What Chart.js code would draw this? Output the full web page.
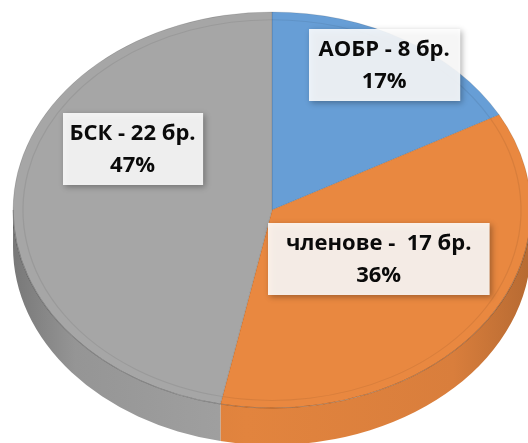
<!DOCTYPE html>
<html><head><meta charset="utf-8">
<script src="https://cdn.jsdelivr.net/npm/chart.js@4/dist/chart.umd.min.js"></script>
<style>html,body{margin:0;padding:0;background:#fff;overflow:hidden}#wrap{width:528px;height:443px;position:relative}</style>
</head><body><div id="wrap"><canvas id="c" width="528" height="443"></canvas></div>
<script>
// ---- data ----
const categories = ['АОБР', 'членове', 'БСК'];
const counts = [8, 17, 22];
const countLabels = ['АОБР - 8 бр.', 'членове -  17 бр.', 'БСК - 22 бр.'];
const percentLabels = ['17%', '36%', '47%'];
const sliceColors = ['#679ed6', '#e98840', '#a6a6a6'];

// ---- look ----
const TILT = 198 / 259;
const DEPTH = 37;
const LABEL_RADIUS = [0.85, 0.48, 0.62];
const LABEL_SHIFT_DEG = [0, -5.5, 24];
const BOX_PAD = [10, 18, 7];
const FONT = 'bold 22px "Open Sans"';

function shade(hex, f) {
  const n = parseInt(hex.slice(1), 16);
  const r = Math.round(((n >> 16) & 255) * f), g = Math.round(((n >> 8) & 255) * f), b = Math.round((n & 255) * f);
  return `rgb(${Math.min(r,255)},${Math.min(g,255)},${Math.min(b,255)})`;
}

let saved = false;
const pie3d = {
  id: 'pie3d',
  beforeDatasetsDraw(chart) {
    const ctx = chart.ctx;
    const arcs = chart.getDatasetMeta(0).data;
    if (!arcs.length) return;
    const { x: cx, y: cy, outerRadius: r } = arcs[0];
    ctx.save(); saved = true;
    ctx.translate(cx, cy); ctx.scale(1, TILT); ctx.translate(-cx, -cy);
    const dz = DEPTH / TILT;
    arcs.forEach((arc, i) => {
      const a1 = Math.max(arc.startAngle, 0), a2 = Math.min(arc.endAngle, Math.PI);
      if (a2 <= a1) return;
      const col = sliceColors[i];
      const g = ctx.createLinearGradient(cx - r, 0, cx + r, 0);
      g.addColorStop(0, shade(col, 0.72));
      g.addColorStop(0.12, shade(col, 0.9));
      g.addColorStop(0.45, shade(col, 0.97));
      g.addColorStop(0.85, shade(col, 0.93));
      g.addColorStop(1, shade(col, 0.78));
      ctx.beginPath();
      ctx.arc(cx, cy, r, a1, a2);
      ctx.arc(cx, cy + dz, r, a2, a1, true);
      ctx.closePath();
      ctx.fillStyle = g;
      ctx.fill();
    });
  },
  afterDatasetsDraw(chart) {
    const ctx = chart.ctx;
    const arcs = chart.getDatasetMeta(0).data;
    if (!saved) return;
    const { x: cx, y: cy, outerRadius: r } = arcs[0];
    ctx.lineWidth = 1 / TILT;
    arcs.forEach((arc) => {
      ctx.beginPath();
      ctx.arc(cx, cy, r - 10, arc.startAngle, arc.endAngle);
      ctx.strokeStyle = 'rgba(0,0,0,0.07)';
      ctx.stroke();
      const a1 = Math.max(arc.startAngle, 0), a2 = Math.min(arc.endAngle, Math.PI);
      if (a2 > a1) {
        ctx.beginPath();
        ctx.arc(cx, cy, r, a1, a2);
        ctx.strokeStyle = 'rgba(0,0,0,0.18)';
        ctx.stroke();
      }
    });
    ctx.restore(); saved = false;
  },
  afterDraw(chart) {
    const ctx = chart.ctx;
    const arcs = chart.getDatasetMeta(0).data;
    if (!arcs.length) return;
    const { x: cx, y: cy, outerRadius: r } = arcs[0];
    ctx.save();
    ctx.font = FONT;
    ctx.textAlign = 'center';
    ctx.textBaseline = 'middle';
    arcs.forEach((arc, i) => {
      const mid = (arc.startAngle + arc.endAngle) / 2 + LABEL_SHIFT_DEG[i] * Math.PI / 180;
      const px = cx + Math.cos(mid) * r * LABEL_RADIUS[i];
      const py = cy + Math.sin(mid) * r * LABEL_RADIUS[i] * TILT;
      const lines = [countLabels[i], percentLabels[i]];
      const tw = Math.max(...lines.map(l => ctx.measureText(l).width));
      const w = tw + 2 * BOX_PAD[i], h = 72;
      const bx = Math.round(px - w / 2), by = Math.round(py - h / 2);
      ctx.save();
      ctx.shadowColor = 'rgba(0,0,0,0.35)';
      ctx.shadowBlur = 6; ctx.shadowOffsetX = 2; ctx.shadowOffsetY = 2;
      ctx.fillStyle = 'rgba(255,255,255,0.88)';
      ctx.fillRect(bx, by, w, h);
      ctx.restore();
      ctx.fillStyle = '#0a0a0a';
      ctx.fillText(lines[0], px, by + h / 2 - 15);
      ctx.fillText(lines[1], px, by + h / 2 + 17);
    });
    ctx.restore();
  }
};

new Chart(document.getElementById('c'), {
  type: 'pie',
  data: {
    labels: categories,
    datasets: [{
      data: counts,
      backgroundColor: sliceColors,
      borderColor: 'rgba(0,0,0,0.12)',
      borderWidth: 1,
      radius: 259,
      clip: false
    }]
  },
  options: {
    responsive: false,
    animation: false,
    devicePixelRatio: 1,
    layout: { padding: { left: 16, right: 0, top: 0, bottom: 23 } },
    plugins: { legend: { display: false }, tooltip: { enabled: false } }
  },
  plugins: [pie3d]
});
</script>
</body></html>
